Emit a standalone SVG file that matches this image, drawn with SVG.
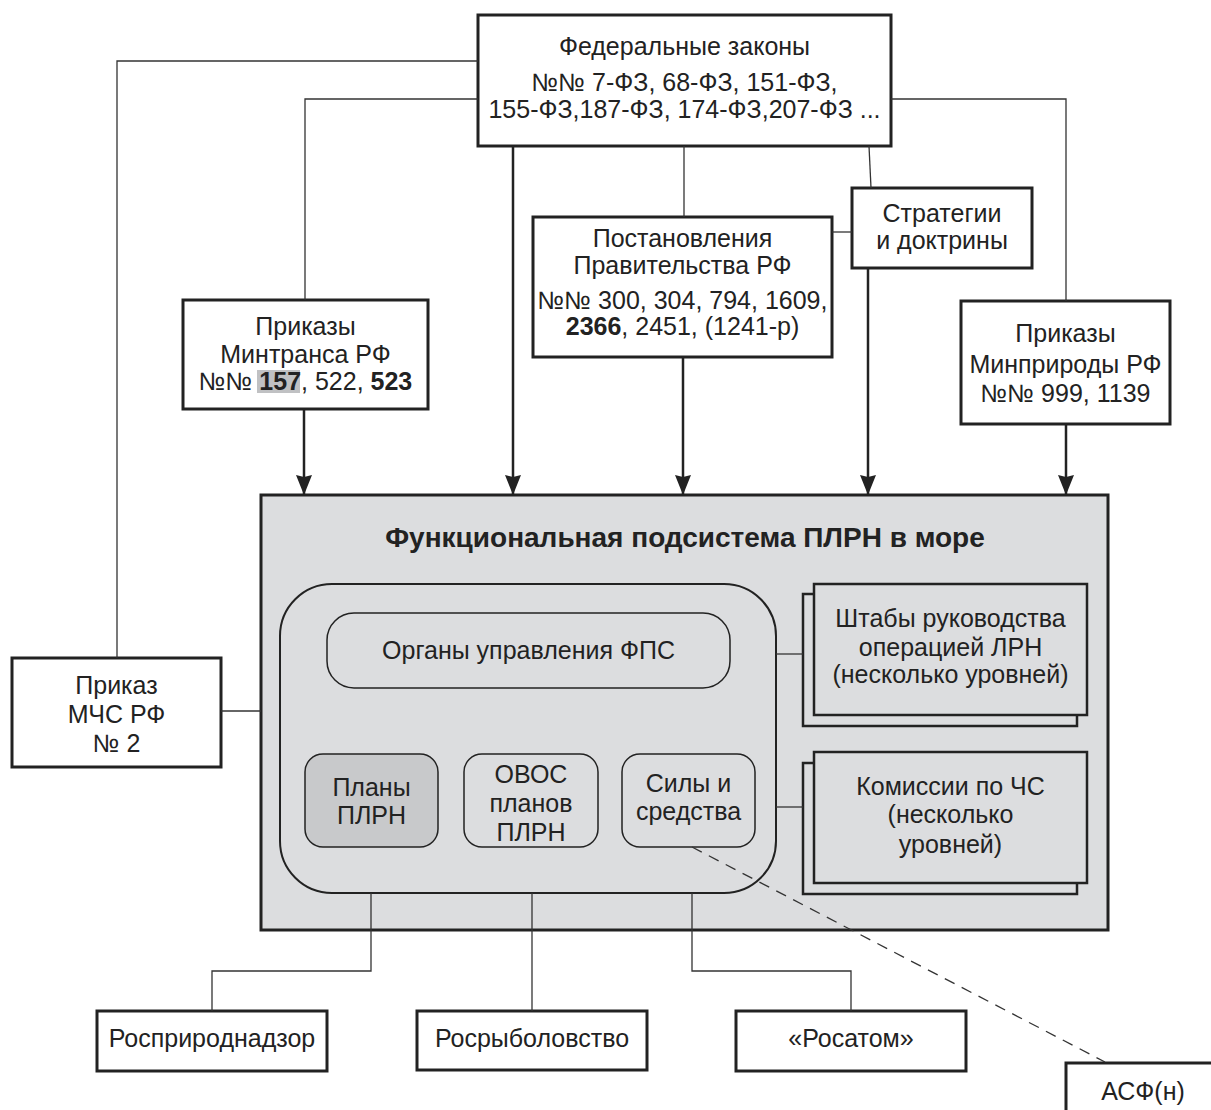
<svg xmlns="http://www.w3.org/2000/svg" width="1211" height="1110" viewBox="0 0 1211 1110">
<defs>
<style>
text{font-family:"Liberation Sans",Arial,sans-serif;font-size:25px;fill:#222;text-anchor:middle}
.b{font-weight:bold}
.box{fill:#fff;stroke:#222;stroke-width:3}
.main{fill:#dcdddf;stroke:#222;stroke-width:3}
.rb{fill:#dcdddf;stroke:#222;stroke-width:1.5}
.thin{fill:none;stroke:#333;stroke-width:1.3}
.bold{fill:none;stroke:#222;stroke-width:2.5}
.dash{fill:none;stroke:#333;stroke-width:1.3;stroke-dasharray:11 8}
</style>
<marker id="arr" markerWidth="20" markerHeight="16" refX="19" refY="8" orient="auto" markerUnits="userSpaceOnUse" viewBox="0 0 20 16">
<path d="M0,0 L20,8 L0,16 L2,8 Z" fill="#222"/>
</marker>
</defs>
<rect width="1211" height="1110" fill="#fff"/>

<g id="main">
<rect class="main" x="261" y="495" width="847" height="435"/>
<text class="b" x="685" y="547" style="font-size:28px">Функциональная подсистема ПЛРН в море</text>
</g>

<g id="fed">
<rect class="box" x="478" y="15" width="413" height="131"/>
<text x="684.5" y="55">Федеральные законы</text>
<text x="684.5" y="91">№№ 7-ФЗ, 68-ФЗ, 151-ФЗ,</text>
<text x="684.5" y="118">155-ФЗ,187-ФЗ, 174-ФЗ,207-ФЗ ...</text>
</g>

<g id="mintrans">
<rect class="box" x="183" y="300" width="245" height="109"/>
<rect x="257" y="370" width="43" height="23" fill="#c0c1c3"/>
<text x="305.5" y="335">Приказы</text>
<text x="305.5" y="363">Минтранса РФ</text>
<text x="305.5" y="390">№№ <tspan class="b">157</tspan>, 522, <tspan class="b">523</tspan></text>
</g>

<g id="postanovleniya">
<rect class="box" x="533" y="217" width="299" height="140"/>
<text x="682.5" y="247">Постановления</text>
<text x="682.5" y="274">Правительства РФ</text>
<text x="682.5" y="309">№№ 300, 304, 794, 1609,</text>
<text x="682.5" y="335"><tspan class="b">2366</tspan>, 2451, (1241-р)</text>
</g>

<g id="strategii">
<rect class="box" x="852" y="188" width="180" height="80"/>
<text x="942" y="222">Стратегии</text>
<text x="942" y="249">и доктрины</text>
</g>

<g id="minprirody">
<rect class="box" x="961" y="301" width="209" height="123"/>
<text x="1065.5" y="342">Приказы</text>
<text x="1065.5" y="373">Минприроды РФ</text>
<text x="1065.5" y="402">№№ 999, 1139</text>
</g>

<g id="mchs">
<rect class="box" x="12" y="658" width="209" height="109"/>
<text x="116.5" y="694">Приказ</text>
<text x="116.5" y="723">МЧС РФ</text>
<text x="116.5" y="752">№ 2</text>
</g>

<g id="fps">
<rect x="280" y="584" width="496" height="309" rx="52" ry="52" fill="#dcdddf" stroke="#222" stroke-width="2"/>
</g>

<g id="organy">
<rect class="rb" x="327" y="613" width="403" height="75" rx="27" ry="27"/>
<text x="528.5" y="659">Органы управления ФПС</text>
</g>

<g id="plany">
<rect x="305" y="754" width="133" height="93" rx="18" ry="18" fill="#c8c9cb" stroke="#222" stroke-width="1.5"/>
<text x="371.5" y="796">Планы</text>
<text x="371.5" y="824">ПЛРН</text>
</g>

<g id="ovos">
<rect class="rb" x="464" y="754" width="134" height="93" rx="18" ry="18"/>
<text x="531" y="783">ОВОС</text>
<text x="531" y="812">планов</text>
<text x="531" y="841">ПЛРН</text>
</g>

<g id="sily">
<rect class="rb" x="622" y="754" width="133" height="93" rx="18" ry="18"/>
<text x="688.5" y="792">Силы и</text>
<text x="688.5" y="820">средства</text>
</g>

<g id="shtaby">
<rect x="803" y="594" width="274" height="132" fill="#dcdddf" stroke="#222" stroke-width="2.5"/>
<rect x="814" y="584" width="273" height="131" fill="#dcdddf" stroke="#222" stroke-width="2.5"/>
<text x="950.5" y="627">Штабы руководства</text>
<text x="950.5" y="656">операцией ЛРН</text>
<text x="950.5" y="683">(несколько уровней)</text>
</g>

<g id="komissii">
<rect x="803" y="763" width="274" height="131" fill="#dcdddf" stroke="#222" stroke-width="2.5"/>
<rect x="814" y="752" width="273" height="131" fill="#dcdddf" stroke="#222" stroke-width="2.5"/>
<text x="950.5" y="795">Комиссии по ЧС</text>
<text x="950.5" y="823">(несколько</text>
<text x="950.5" y="853">уровней)</text>
</g>

<g id="rosprirodnadzor">
<rect class="box" x="97" y="1011" width="230" height="60"/>
<text x="212" y="1047">Росприроднадзор</text>
</g>

<g id="rosrybolovstvo">
<rect class="box" x="417" y="1011" width="230" height="59"/>
<text x="532" y="1047">Росрыболовство</text>
</g>

<g id="rosatom">
<rect class="box" x="736" y="1011" width="230" height="60"/>
<text x="851" y="1047">«Росатом»</text>
</g>

<g id="asf">
<rect class="box" x="1066" y="1063" width="160" height="60"/>
<text x="1143" y="1100">АСФ(н)</text>
</g>

<g id="connectors">
<polyline class="thin" points="478,61 117,61 117,658"/>
<polyline class="thin" points="478,99 305,99 305,300"/>
<polyline class="thin" points="891,99 1066,99 1066,301"/>
<line class="thin" x1="684" y1="146" x2="684" y2="217"/>
<line class="thin" x1="869" y1="146" x2="871" y2="188"/>
<line class="thin" x1="832" y1="232" x2="852" y2="232"/>
<line class="thin" x1="221" y1="711" x2="261" y2="711"/>
<line class="thin" x1="776" y1="654" x2="803" y2="654"/>
<line class="thin" x1="776" y1="807" x2="803" y2="807"/>
<polyline class="thin" points="371,893 371,971 212,971 212,1011"/>
<line class="thin" x1="532" y1="893" x2="532" y2="1011"/>
<polyline class="thin" points="692,893 692,971 851,971 851,1011"/>
<line class="dash" x1="692" y1="847" x2="1105" y2="1062"/>
<line class="bold" x1="513" y1="146" x2="513" y2="494" marker-end="url(#arr)"/>
<line class="bold" x1="304" y1="409" x2="304" y2="494" marker-end="url(#arr)"/>
<line class="bold" x1="683" y1="357" x2="683" y2="494" marker-end="url(#arr)"/>
<line class="bold" x1="868" y1="268" x2="868" y2="494" marker-end="url(#arr)"/>
<line class="bold" x1="1066" y1="424" x2="1066" y2="494" marker-end="url(#arr)"/>
</g>
</svg>
